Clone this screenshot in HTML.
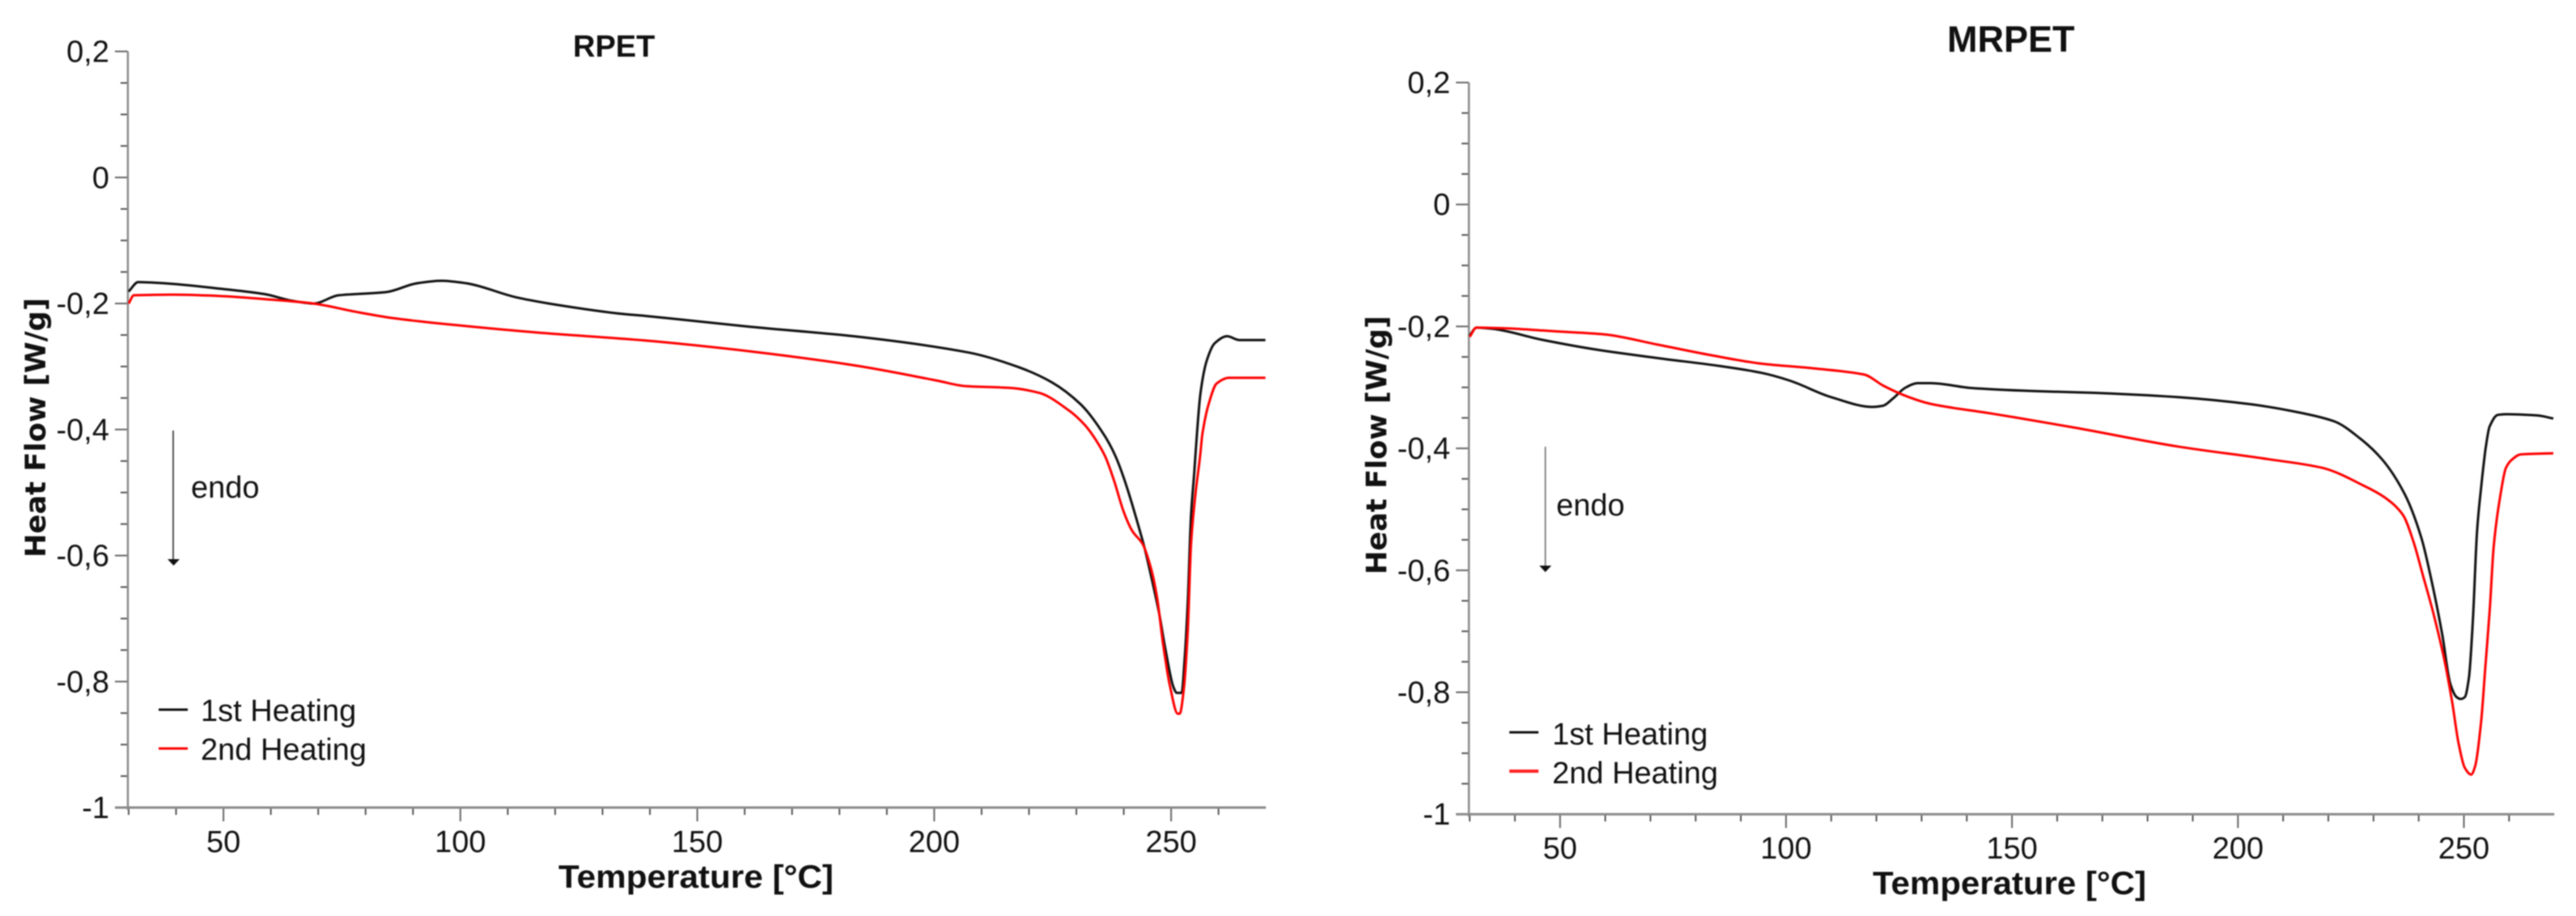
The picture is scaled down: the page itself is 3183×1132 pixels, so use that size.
<!DOCTYPE html>
<html lang="en">
<head>
<meta charset="utf-8">
<title>RPET and MRPET DSC heating curves</title>
<style>
html,body{margin:0;padding:0;background:#fff;width:3183px;height:1132px;overflow:hidden}
svg{display:block;filter:blur(0.7px)}
text{font-family:"Liberation Sans",sans-serif;fill:#111}
.tick{font-size:38px}
.note{font-size:38px}
.title{font-weight:bold}
.xtitle{font-size:40px;font-weight:bold}
.ytitle{font-family:"DejaVu Sans",sans-serif;font-size:35px;font-weight:bold}
</style>
</head>
<body>
<svg id="figure" xmlns="http://www.w3.org/2000/svg" width="3183" height="1132" viewBox="0 0 3183 1132">
  <rect width="3183" height="1132" fill="#fff"/>

  <g id="chart-rpet">
    <text class="title" x="708" y="70" font-size="38">RPET</text>
    <text class="xtitle" x="690" y="1097" textLength="340" lengthAdjust="spacingAndGlyphs">Temperature [°C]</text>
    <text class="ytitle" transform="translate(56,689) rotate(-90)" textLength="321" lengthAdjust="spacingAndGlyphs">Heat Flow [W/g]</text>
    <line x1="214" y1="532" x2="214" y2="692" stroke="#555" stroke-width="2"/>
    <polygon points="207,691 222,691 214.500,699" fill="#111"/>
    <text class="note" x="236" y="615">endo</text>
    <line x1="196" y1="877" x2="232" y2="877" stroke="#111" stroke-width="3"/>
    <text class="note" x="248" y="891">1st Heating</text>
    <line x1="196" y1="925" x2="232" y2="925" stroke="#f00" stroke-width="3"/>
    <text class="note" x="248" y="939">2nd Heating</text>
  </g>

  <g id="chart-mrpet">
    <text class="title" x="2406" y="64" font-size="45">MRPET</text>
    <text class="xtitle" x="2314" y="1105" textLength="338" lengthAdjust="spacingAndGlyphs">Temperature [°C]</text>
    <text class="ytitle" transform="translate(1713,710) rotate(-90)" textLength="320" lengthAdjust="spacingAndGlyphs">Heat Flow [W/g]</text>
    <line x1="1909.500" y1="552" x2="1909.500" y2="700" stroke="#888" stroke-width="2"/>
    <polygon points="1902,699 1917,699 1909.500,707" fill="#111"/>
    <text class="note" x="1923" y="637">endo</text>
    <line x1="1865" y1="905" x2="1901" y2="905" stroke="#111" stroke-width="3"/>
    <text class="note" x="1918" y="920">1st Heating</text>
    <line x1="1865" y1="953" x2="1901" y2="953" stroke="#f22" stroke-width="4"/>
    <text class="note" x="1918" y="968">2nd Heating</text>
  </g>
</svg>

<script>
// Shared axis values
const xMajorTicks = [50, 100, 150, 200, 250];
const xMinorTicks = [30, 40, 60, 70, 80, 90, 110, 120, 130, 140, 160, 170, 180, 190, 210, 220, 230, 240, 260];
const yMajorTicks = [0.2, 0, -0.2, -0.4, -0.6, -0.8, -1];
const yMajorLabels = ["0,2", "0", "-0,2", "-0,4", "-0,6", "-0,8", "-1"];
const yMinorTicks = [0.15, 0.1, 0.05, -0.05, -0.1, -0.15, -0.25, -0.3, -0.35, -0.45, -0.5, -0.55, -0.65, -0.7, -0.75, -0.85, -0.9, -0.95];

// RPET, 1st heating
const rpetFirstTemp = [30, 32, 37.7, 49.9, 58.6, 64.7, 69, 74.3, 84.3, 90.8, 96, 101.3, 111.7, 118.7, 133.5, 139.4, 161.2, 183, 207.4, 217.8, 224.8, 230.9, 235.3, 238.3, 244, 245.9, 247.5, 248.8, 250.5, 251.2, 252.2, 252.9, 253.5, 254.2, 254.9, 255.1, 256.2, 257.5, 259.2, 261.8, 264.4, 269.9];
const rpetFirstFlow = [-0.181, -0.166, -0.168, -0.177, -0.185, -0.196, -0.2, -0.187, -0.182, -0.168, -0.164, -0.168, -0.19, -0.2, -0.216, -0.22, -0.237, -0.252, -0.278, -0.301, -0.325, -0.36, -0.402, -0.443, -0.577, -0.637, -0.693, -0.749, -0.809, -0.818, -0.818, -0.758, -0.675, -0.536, -0.466, -0.443, -0.342, -0.291, -0.263, -0.252, -0.258, -0.258];

// RPET, 2nd heating
const rpetSecondTemp = [30, 31.1, 39.4, 49, 60.3, 69, 77.8, 85.6, 98.7, 116.1, 139.4, 161.2, 183, 200.4, 206.5, 216, 222.2, 228.3, 231.8, 234.4, 236.1, 237.9, 240, 241.8, 244, 245.7, 247, 248.3, 249.7, 251.4, 251.8, 252.7, 253.5, 254.2, 255.2, 256.1, 256.6, 257.9, 259.6, 262.2, 269.9];
const rpetSecondFlow = [-0.2, -0.187, -0.186, -0.188, -0.194, -0.2, -0.213, -0.223, -0.234, -0.246, -0.259, -0.276, -0.298, -0.322, -0.331, -0.334, -0.342, -0.369, -0.393, -0.42, -0.443, -0.48, -0.531, -0.561, -0.582, -0.619, -0.665, -0.74, -0.805, -0.851, -0.851, -0.81, -0.721, -0.582, -0.498, -0.443, -0.407, -0.36, -0.327, -0.318, -0.318];

// MRPET, 1st heating
const mrpetFirstTemp = [30, 31.5, 35.1, 46.1, 58, 71.7, 85.4, 94.5, 100.9, 110, 119.2, 121.5, 123.7, 126.5, 129.2, 132, 141, 154.7, 168.4, 186.7, 203.1, 214.1, 221.4, 226.9, 231.9, 236.9, 240.6, 243.3, 245.2, 247, 248.4, 249.3, 250.2, 251.1, 252, 252.9, 253.8, 254.5, 254.8, 255.7, 257.5, 259.3, 266.2, 269.8];
const mrpetFirstFlow = [-0.215, -0.202, -0.204, -0.222, -0.238, -0.252, -0.265, -0.276, -0.289, -0.316, -0.332, -0.33, -0.318, -0.3, -0.293, -0.293, -0.301, -0.306, -0.309, -0.316, -0.328, -0.342, -0.356, -0.383, -0.418, -0.475, -0.547, -0.633, -0.705, -0.786, -0.808, -0.811, -0.808, -0.777, -0.681, -0.537, -0.465, -0.418, -0.4, -0.364, -0.345, -0.344, -0.346, -0.351];

// MRPET, 2nd heating
const mrpetSecondTemp = [30, 31.5, 37.9, 48.8, 59.8, 71.7, 82.6, 94.5, 106.4, 117.3, 121.5, 126.5, 132, 145.6, 163.9, 186.7, 207, 218.7, 227.8, 232.4, 236.5, 238.8, 241, 243.3, 245.6, 247.4, 248.8, 250.2, 251.6, 252.5, 253.8, 254.8, 255.7, 256.6, 258, 259.3, 260.7, 262.5, 269.8];
const mrpetSecondFlow = [-0.217, -0.202, -0.203, -0.208, -0.213, -0.23, -0.246, -0.261, -0.269, -0.279, -0.297, -0.314, -0.327, -0.343, -0.366, -0.397, -0.418, -0.432, -0.461, -0.48, -0.509, -0.552, -0.61, -0.672, -0.744, -0.816, -0.883, -0.924, -0.935, -0.921, -0.849, -0.753, -0.667, -0.561, -0.48, -0.432, -0.418, -0.41, -0.408];

const SVG_NS = "http://www.w3.org/2000/svg";

function makeShape(tag, geometry) {
  const node = document.createElementNS(SVG_NS, tag);
  for (const key in geometry) {
    node.setAttribute(key, geometry[key]);
  }
  return node;
}

// Monotone cubic path through the given screen points
function smoothPath(xs, ys) {
  const n = xs.length;
  const slopes = [];
  for (let i = 0; i < n - 1; i++) {
    slopes.push((ys[i + 1] - ys[i]) / (xs[i + 1] - xs[i]));
  }
  const tangents = [slopes[0]];
  for (let i = 1; i < n - 1; i++) {
    const a = slopes[i - 1];
    const b = slopes[i];
    tangents.push(a * b <= 0 ? 0 : 2 * a * b / (a + b));
  }
  tangents.push(slopes[n - 2]);
  let d = "M" + xs[0].toFixed(1) + "," + ys[0].toFixed(1);
  for (let i = 0; i < n - 1; i++) {
    const h = (xs[i + 1] - xs[i]) / 3;
    d += "C" + (xs[i] + h).toFixed(1) + "," + (ys[i] + tangents[i] * h).toFixed(1) + " " +
      (xs[i + 1] - h).toFixed(1) + "," + (ys[i + 1] - tangents[i + 1] * h).toFixed(1) + " " +
      xs[i + 1].toFixed(1) + "," + ys[i + 1].toFixed(1);
  }
  return d;
}

function drawChart(parentId, prefix, frame, firstTemp, firstFlow, secondTemp, secondFlow) {
  const parent = document.getElementById(parentId);
  const xScale = function (t) {
    return frame.x30 + (t - 30) * frame.xPerDegree;
  };
  const yScale = function (v) {
    return frame.yZero - v * frame.yPerUnit;
  };
  const yBottom = yScale(-1);
  const xLeft = xScale(30) - 1;

  for (const t of xMinorTicks) {
    const el = makeShape("line", { x1: xScale(t), x2: xScale(t), y1: yBottom, y2: yBottom + 9, stroke: "#555", "stroke-width": 2 });
    
    
    parent.appendChild(el);
  }
  for (const t of xMajorTicks) {
    const el = makeShape("line", { x1: xScale(t), x2: xScale(t), y1: yBottom, y2: yBottom + 17, stroke: "#666", "stroke-width": 2 });
    
    
    parent.appendChild(el);
    const label = makeShape("text", { x: xScale(t), y: yBottom + frame.xLabelGap, "text-anchor": "middle", class: "tick" });
    label.textContent = String(t);
    
    
    parent.appendChild(label);
  }
  for (const v of yMinorTicks) {
    const el = makeShape("line", { x1: xLeft - 9, x2: xLeft, y1: yScale(v), y2: yScale(v), stroke: "#555", "stroke-width": 2 });
    
    
    parent.appendChild(el);
  }
  yMajorTicks.forEach(function (v, i) {
    const el = makeShape("line", { x1: xLeft - 16, x2: xLeft, y1: yScale(v), y2: yScale(v), stroke: "#666", "stroke-width": 2 });
    
    
    parent.appendChild(el);
    const label = makeShape("text", { x: xLeft - 23, y: yScale(v) + 13, "text-anchor": "end", class: "tick" });
    label.textContent = yMajorLabels[i];
    
    
    parent.appendChild(label);
  });

  const yAxis = makeShape("line", { x1: xLeft, x2: xLeft, y1: yScale(0.2), y2: yBottom + 3, stroke: "#8a8a8a", "stroke-width": 2.5 });
  
  
  parent.appendChild(yAxis);

  const xAxis = makeShape("line", { x1: xLeft - 16, x2: xScale(270), y1: yBottom, y2: yBottom, stroke: "#8a8a8a", "stroke-width": 3 });
  
  
  parent.appendChild(xAxis);

  const toPath = function (temps, flows) {
    return smoothPath(temps.map(xScale), flows.map(yScale));
  };

  const firstCurve = makeShape("path", { d: toPath(firstTemp, firstFlow), fill: "none", stroke: "#111", "stroke-width": 3, "stroke-linejoin": "round" });
  
  
  parent.appendChild(firstCurve);

  const secondCurve = makeShape("path", { d: toPath(secondTemp, secondFlow), fill: "none", stroke: "#f00", "stroke-width": 3, "stroke-linejoin": "round" });
  
  
  parent.appendChild(secondCurve);
}

drawChart("chart-rpet", "rpet", { x30: 159, xPerDegree: 5.855, yZero: 219.3, yPerUnit: 778.75, xLabelGap: 55 },
  rpetFirstTemp, rpetFirstFlow, rpetSecondTemp, rpetSecondFlow);
drawChart("chart-mrpet", "mrpet", { x30: 1816, xPerDegree: 5.584, yZero: 252.7, yPerUnit: 753.5, xLabelGap: 55 },
  mrpetFirstTemp, mrpetFirstFlow, mrpetSecondTemp, mrpetSecondFlow);
</script>
</body>
</html>
